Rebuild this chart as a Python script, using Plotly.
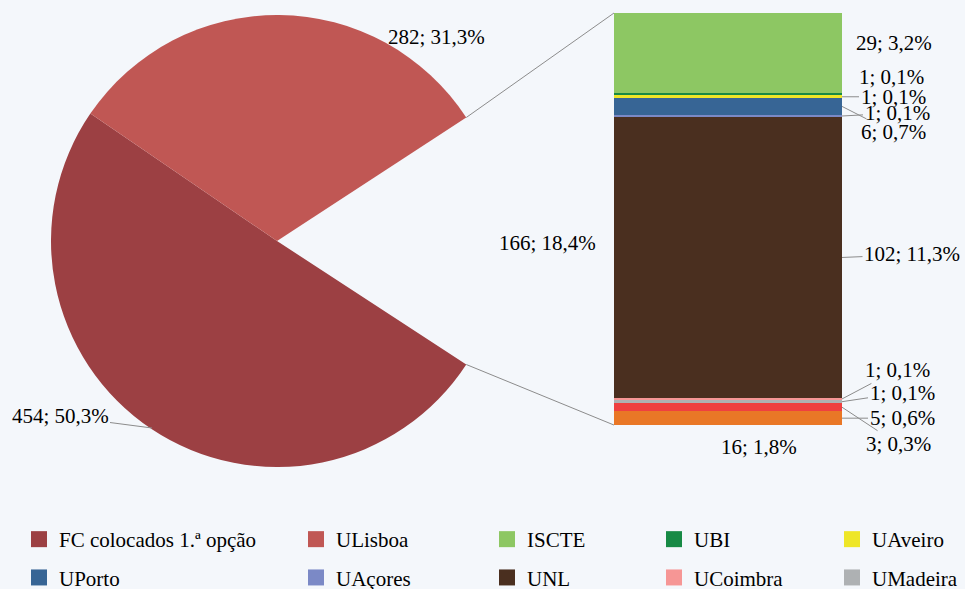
"""Pie-of-bar chart: FC colocados / ULisboa / outras instituições."""

import math

import plotly.graph_objects as go

W, H = 965, 589
FONT = "Liberation Serif"

pie_labels = ["FC colocados 1.ª opção", "ULisboa", "Outro"]
pie_values = [454, 282, 166]
pie_colors = ["#9C4043", "#C05754", "rgba(0,0,0,0)"]

# bar segments, top to bottom
bar_labels = ["ISCTE", "UBI", "UAveiro", "UPorto", "UAçores", "UNL",
              "UCoimbra", "UMadeira", "UÉvora", "UAlgarve", "Outras"]
bar_values = [29, 1, 1, 6, 1, 102, 1, 1, 3, 5, 16]
bar_colors = ["#8DC763", "#178A45", "#EEE627", "#376595", "#7B89C6", "#4A2F1F",
              "#F69695", "#AEB1B3", "#EF4040", "#E97726", "rgba(0,0,0,0)"]

legend_columns = [
    ["FC colocados 1.ª opção", "UPorto"],
    ["ULisboa", "UAçores"],
    ["ISCTE", "UNL"],
    ["UBI", "UCoimbra"],
    ["UAveiro", "UMadeira"],
]

total = sum(pie_values)


def fmt(v):
    return f"{v}; {100 * v / total:.1f}%".replace(".", ",")


def px(x, y):
    return x / W, 1 - y / H


# geometry (pixels)
cx, cy, R = 277, 241, 226
bx0, bx1, by0, by1 = 614, 842, 13, 469

half = 360 * pie_values[2] / total / 2

fig = go.Figure()

fig.add_trace(go.Pie(
    labels=pie_labels, values=pie_values, sort=False, direction="clockwise",
    rotation=90 + half, textinfo="none", showlegend=False,
    marker=dict(colors=pie_colors, line=dict(width=0)),
    domain=dict(x=[(cx - R) / W, (cx + R) / W],
                y=[1 - (cy + R) / H, 1 - (cy - R) / H]),
))

# stacked bar, drawn bottom to top
for name, v, c in reversed(list(zip(bar_labels, bar_values, bar_colors))):
    fig.add_trace(go.Bar(x=[0], y=[v], name=name, marker=dict(color=c, line=dict(width=0)),
                         width=1, showlegend=False))

# legend proxies
color_of = dict(zip(pie_labels, pie_colors)) | dict(zip(bar_labels, bar_colors))
for k, col in enumerate(legend_columns):
    for name in col:
        fig.add_trace(go.Scatter(
            x=[None], y=[None], mode="markers", name=name,
            marker=dict(symbol="square", size=22, color=color_of[name]),
            legend="legend" if k == 0 else f"legend{k + 1}",
            legendgroup=name,
        ))

ann = []
# pie labels
lx, ly = px(436, 23)
ann.append(dict(x=lx, y=ly, xref="paper", yref="paper", text=fmt(pie_values[1]), showarrow=False))
ex, ey = px(152, 428)
ann.append(dict(x=ex, y=ey, xref="paper", yref="paper", text=fmt(pie_values[0]),
                showarrow=True, arrowhead=0, arrowwidth=1, arrowcolor="#8C8C8C",
                ax=-92, ay=-12))
lx, ly = px(547, 243)
ann.append(dict(x=lx, y=ly, xref="paper", yref="paper", text=fmt(pie_values[2]), showarrow=False))

# bar labels: offsets from the segment's right edge (px), leader line or not
label_offsets = [(52, -10, False), (49, -17, False), (51, 0, True), (51, 26, True),
                 (55, -3, True), (70, -3, True), (55, -29, True), (60, -9, True),
                 (56, 37, True), (60, 0, True), (None, None, False)]
top = sum(bar_values)
for v, (ax, ay, line) in zip(bar_values, label_offsets):
    mid = top - v / 2
    top -= v
    if ax is None:
        ann.append(dict(x=0, y=mid, xref="x", yref="y", text=fmt(v), showarrow=False,
                        xshift=31))
        continue
    ann.append(dict(x=0.5, y=mid, xref="x", yref="y", text=fmt(v), showarrow=True,
                    arrowhead=0, arrowwidth=1, ax=ax, ay=ay,
                    arrowcolor="#8C8C8C" if line else "rgba(0,0,0,0)"))

# connector lines from the pie gap to the bar
scale = (by1 - by0) / sum(bar_values)
hx = cx + R * math.cos(math.radians(half))
hy = R * math.sin(math.radians(half))
bottom_visible = by1 - bar_values[-1] * scale
shapes = [
    dict(type="line", xref="paper", yref="paper",
         x0=px(hx, cy - hy)[0], y0=px(hx, cy - hy)[1], x1=px(bx0, by0)[0], y1=px(bx0, by0)[1],
         line=dict(color="#8C8C8C", width=1)),
    dict(type="line", xref="paper", yref="paper",
         x0=px(hx, cy + hy)[0], y0=px(hx, cy + hy)[1],
         x1=px(bx0, bottom_visible)[0], y1=px(bx0, bottom_visible)[1],
         line=dict(color="#8C8C8C", width=1)),
]

legend_x = [19, 296, 487, 654, 832]
legends = {}
for k, x in enumerate(legend_x):
    key = "legend" if k == 0 else f"legend{k + 1}"
    legends[key] = dict(x=x / W, y=1 - 519 / H, xanchor="left", yanchor="top",
                        orientation="v", bgcolor="rgba(0,0,0,0)", traceorder="grouped",
                        tracegroupgap=8, font=dict(family=FONT, size=21, color="#000000"))

fig.update_layout(
    width=W, height=H, margin=dict(l=0, r=0, t=0, b=0, autoexpand=False),
    paper_bgcolor="#F4F7FB", plot_bgcolor="rgba(0,0,0,0)",
    font=dict(family=FONT, size=21, color="#000000"),
    barmode="stack", bargap=0,
    xaxis=dict(domain=[bx0 / W, bx1 / W], range=[-0.5, 0.5], visible=False, fixedrange=True),
    yaxis=dict(domain=[1 - by1 / H, 1 - by0 / H], range=[0, sum(bar_values)],
               visible=False, fixedrange=True),
    annotations=ann, shapes=shapes,
    **legends,
)

# drop the browser's default 8px body margin so the figure sits at the page corner
fig.write_html("out.html", config={"displayModeBar": False},
               post_script="document.body.style.margin='0';")
